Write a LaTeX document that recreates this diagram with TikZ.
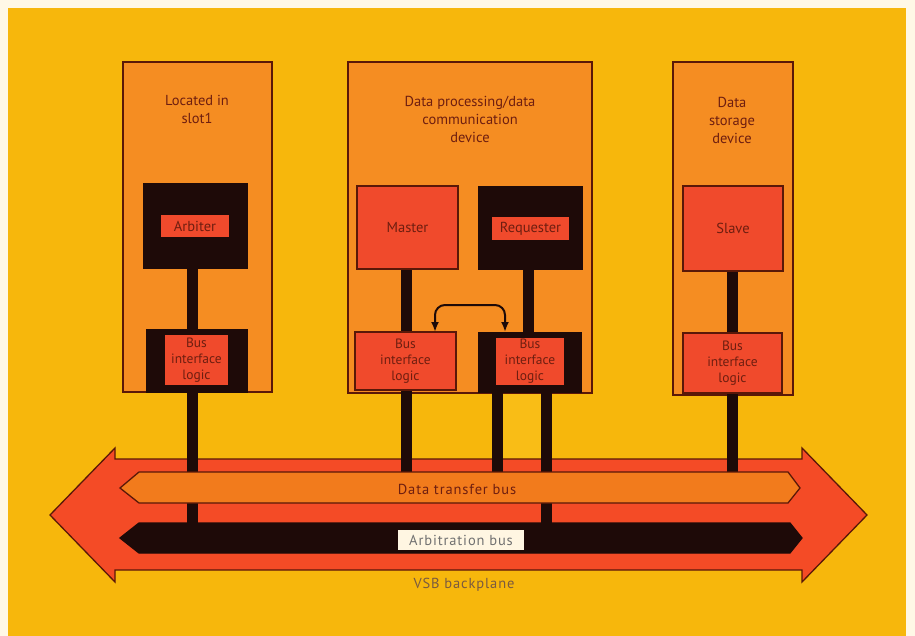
\documentclass[tikz,border=0pt]{standalone}
\usepackage{fontspec}
\setmainfont{PT Sans}
\usetikzlibrary{arrows.meta,calc}
\definecolor{paper}{HTML}{FFF8E6}
\definecolor{bgY}{HTML}{F7B70C}
\definecolor{hiY}{HTML}{F9BD16}
\definecolor{devO}{HTML}{F58D22}
\definecolor{redB}{HTML}{F04A2C}
\definecolor{arrR}{HTML}{F44B26}
\definecolor{busO}{HTML}{F27B1C}
\definecolor{blk}{HTML}{1E0A08}
\definecolor{edge}{HTML}{5A1808}
\definecolor{txt}{HTML}{6E1E10}
\definecolor{cream}{HTML}{FFF6E2}
\definecolor{gtxt}{HTML}{707070}
\definecolor{btxt}{HTML}{7A5A40}
\tikzset{
  devbox/.style={draw=edge, line width=1.3pt, fill=devO, inner sep=0pt, outer sep=0pt},
  redbox/.style={draw=edge, line width=1.3pt, fill=redB, text=txt, inner sep=0pt, outer sep=0pt, align=center},
  blackbox/.style={fill=blk, draw=blk, inner sep=0pt, outer sep=0pt},
  redlabel/.style={fill=redB, text=txt, inner sep=0pt, outer sep=0pt, align=center},
  wire/.style={draw=blk, line width=11pt},
  devlabel/.style={text=txt, align=center, font=\fontsize{14.5}{18}\selectfont},
  bilfont/.style={font=\fontsize{13.5}{16}\selectfont},
  bustext/.style={font=\fontsize{14.5}{18}\selectfont\addfontfeature{LetterSpace=6}},
  busshape/.style={draw=edge, line width=1.3pt},
  dbl/.style={draw=blk, line width=2pt, rounded corners=10pt,
    {Latex[length=10pt,width=8pt]}-{Latex[length=10pt,width=8pt]}}
}
\begin{document}
\begin{tikzpicture}[x=1pt,y=-1pt, font=\fontsize{14.5}{18}\selectfont]
\useasboundingbox (0,0) rectangle (915,636);
\fill[paper] (0,0) rectangle (915,636);
\fill[bgY] (8,8) rectangle (906,636);

% device boxes
\node[devbox, minimum width=149pt, minimum height=330pt] (dev1) at (197.5,227) {};
\node[devbox, minimum width=244pt, minimum height=331pt] (dev2) at (470,227.5) {};
\node[devbox, minimum width=120pt, minimum height=333pt] (dev3) at (733,228.5) {};

\node[devlabel] (l1) at (197,109) {Located in\\slot1};
\node[devlabel] (l2) at (470,119.5) {Data processing/data\\communication\\device};
\node[devlabel] (l3) at (732,120.5) {Data\\storage\\device};

% backplane arrow
\draw[busshape, fill=arrR] (50,515) -- (115,448) -- (115,459) -- (802,459) -- (802,448)
  -- (867,515) -- (802,582) -- (802,570) -- (115,570) -- (115,582) -- cycle;

% light patch between the two requester wires
\fill[hiY] (502,394) rectangle (541,458);

% bus taps
\coordinate (t1) at (192,538);
\coordinate (t2) at (406,488);
\coordinate (t3) at (497,488);
\coordinate (t4) at (546,538);
\coordinate (t5) at (732,488);
\coordinate (w1) at (192,0);
\coordinate (w2) at (406,0);
\coordinate (w3) at (528,0);
\coordinate (w4) at (732,0);

% inner black boxes (placed first so wires can be run between them)
\node[blackbox, minimum width=104pt, minimum height=85pt] (arbB) at (195,225.5) {};
\node[blackbox, minimum width=101pt, minimum height=63pt] (bil1B) at (196.5,360.5) {};
\node[blackbox, minimum width=104pt, minimum height=83pt] (reqB) at (530,227.5) {};
\node[blackbox, minimum width=103pt, minimum height=60pt] (bil3B) at (529.5,362) {};

% wires
\draw[wire] (w1 |- arbB.center) -- (w1 |- bil1B.center);
\draw[wire] (w2 |- arbB.center) -- (w2 |- bil3B.center);
\draw[wire] (w3 |- reqB.center) -- (w3 |- bil3B.center);
\draw[wire] (w4 |- arbB.center) -- (w4 |- bil3B.center);
\draw[wire] (t1 |- bil1B.center) -- (t1);
\draw[wire] (t2 |- bil3B.center) -- (t2);
\draw[wire] (t3 |- bil3B.center) -- (t3);
\draw[wire] (t4 |- bil3B.center) -- (t4);
\draw[wire] (t5 |- bil3B.center) -- (t5);

% buses
\draw[busshape, fill=busO] (120,488) -- (139,472) -- (788,472) -- (800,488) -- (788,503) -- (139,503) -- cycle;
\node[text=txt, bustext] (dtb) at (457,489) {Data transfer bus};
\draw[busshape, draw=blk, fill=blk] (120,538) -- (139,523) -- (790,523) -- (802,538) -- (790,553) -- (139,553) -- cycle;
\node[fill=cream, text=gtxt, bustext, minimum width=126pt, minimum height=20pt, inner sep=0pt] (arb) at (461,540) {Arbitration bus};
\node[text=btxt, bustext] (vsb) at (464,585) {VSB backplane};

% redraw black boxes on top of wires
\node[blackbox, minimum width=104pt, minimum height=85pt] at (arbB) {};
\node[blackbox, minimum width=101pt, minimum height=63pt] at (bil1B) {};
\node[blackbox, minimum width=104pt, minimum height=83pt] at (reqB) {};
\node[blackbox, minimum width=103pt, minimum height=60pt] at (bil3B) {};

% red boxes / labels
\node[redlabel, minimum width=68pt, minimum height=22pt] (arbiter) at (195,226) {Arbiter};
\node[redlabel, bilfont, minimum width=63pt, minimum height=50pt] (bil1) at (196.5,360) {Bus\\interface\\logic};
\node[redbox, minimum width=101pt, minimum height=83pt] (master) at (407.5,227.5) {Master};
\node[redlabel, minimum width=77pt, minimum height=23pt] (req) at (530.5,228.5) {Requester};
\node[redbox, bilfont, minimum width=101pt, minimum height=58pt] (bil2) at (405.5,361) {Bus\\interface\\logic};
\node[redlabel, bilfont, minimum width=68pt, minimum height=47pt] (bil3) at (530,361.5) {Bus\\interface\\logic};
\node[redbox, minimum width=100pt, minimum height=85pt] (slave) at (733,228.5) {Slave};
\node[redbox, bilfont, minimum width=99pt, minimum height=60pt] (bil4) at (732.5,363) {Bus\\interface\\logic};

% double-headed arrow between the two bus interfaces
\draw[dbl] ([xshift=-21pt]bil2.north east) -- ++(0,-27) -- ++(70,0) -- ++(0,27);
\end{tikzpicture}
\end{document}
